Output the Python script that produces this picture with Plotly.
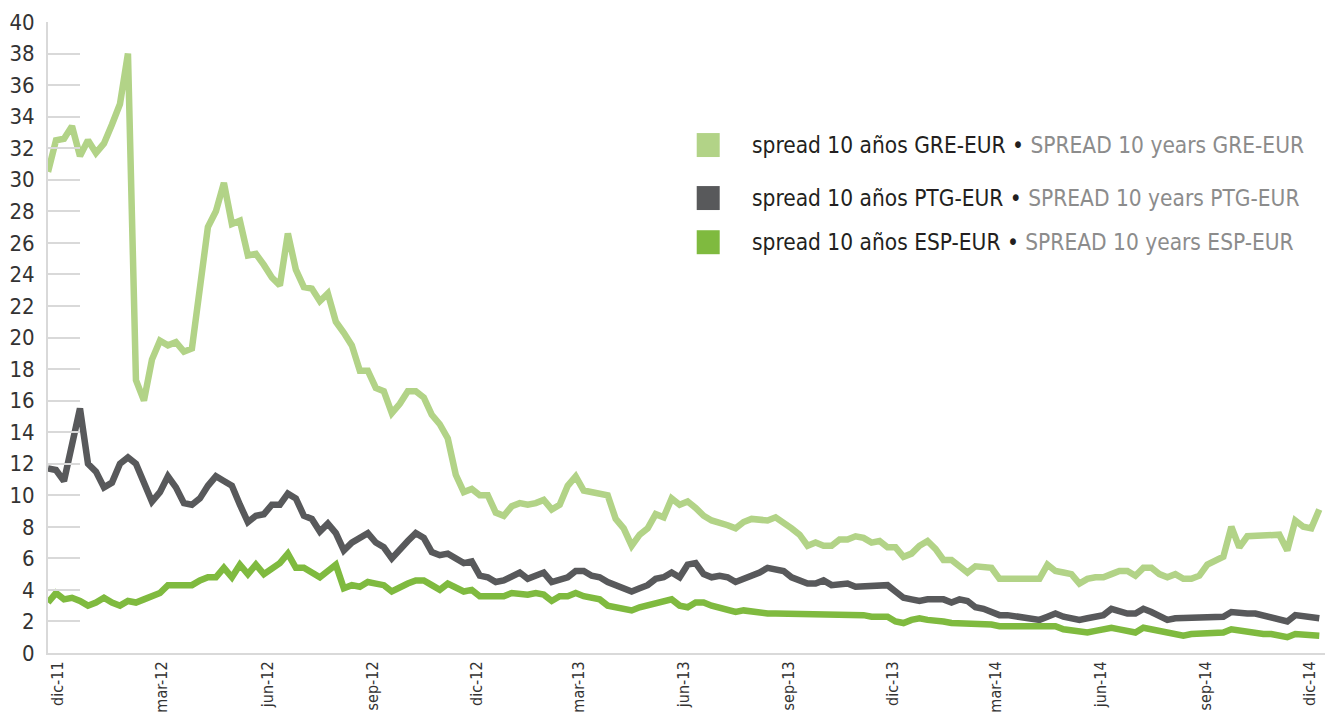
import plotly.graph_objects as go
import pandas as pd

# weekly observations starting on this date
start_date = "2011-11-22"

gre = [30.5, 32.5, 32.6, 33.4, 31.5, 32.5, 31.7, 32.3, 33.5, 34.8,
       38.0, 17.3, 16.0, 18.6, 19.8, 19.5, 19.7, 19.1, 19.3, 23.0,
       27.0, 28.0, 29.8, 27.2, 27.4, 25.2, 25.3, 24.6, 23.8, 23.3,
       26.6, 24.3, 23.2, 23.1, 22.3, 22.8, 21.0, 20.3, 19.5, 17.9,
       17.9, 16.8, 16.6, 15.2, 15.8, 16.6, 16.6, 16.2, 15.1, 14.5,
       13.6, 11.3, 10.2, 10.4, 10.0, 10.0, 8.9, 8.7, 9.3, 9.5,
       9.4, 9.5, 9.7, 9.1, 9.4, 10.6, 11.2, 10.3, 10.2, 10.2,
       10.0, 8.5, 7.9, 6.8, 7.5, 7.9, 8.8, 8.6, 9.8, 9.4,
       9.6, 9.2, 8.7, 8.4, 8.3, 8.1, 7.9, 8.3, 8.5, 8.5,
       8.4, 8.6, 8.3, 7.9, 7.5, 6.8, 7.0, 6.8, 6.8, 7.2,
       7.2, 7.4, 7.3, 7.0, 7.1, 6.7, 6.7, 6.1, 6.3, 6.8,
       7.1, 6.6, 5.9, 5.9, 5.5, 5.1, 5.5, 5.4, 5.4, 4.7,
       4.7, 4.8, 4.8, 4.8, 4.7, 5.6, 5.2, 5.1, 5.0, 4.4,
       4.7, 4.8, 4.8, 5.0, 5.2, 5.2, 4.9, 5.4, 5.4, 5.0,
       4.8, 5.0, 4.7, 4.7, 4.9, 5.6, 5.8, 6.1, 8.0, 6.7,
       7.4, 7.4, 7.4, 7.4, 7.5, 6.5, 8.4, 8.0, 7.9, 9.1]

ptg = [11.7, 11.6, 10.9, 13.0, 15.5, 12.0, 11.5, 10.5, 10.8, 12.0,
       12.4, 12.0, 10.8, 9.6, 10.2, 11.2, 10.5, 9.5, 9.4, 9.8,
       10.6, 11.2, 10.9, 10.6, 9.4, 8.3, 8.7, 8.8, 9.4, 9.4,
       10.1, 9.8, 8.7, 8.5, 7.7, 8.2, 7.6, 6.5, 7.0, 7.3,
       7.6, 7.0, 6.7, 6.0, 6.6, 7.1, 7.6, 7.3, 6.4, 6.2,
       6.3, 6.0, 5.7, 5.8, 4.9, 4.8, 4.5, 4.6, 4.8, 5.1,
       4.7, 4.9, 5.1, 4.5, 4.6, 4.8, 5.2, 5.2, 4.9, 4.8,
       4.5, 4.3, 4.1, 3.9, 4.1, 4.3, 4.7, 4.8, 5.1, 4.8,
       5.6, 5.7, 5.0, 4.8, 4.9, 4.8, 4.5, 4.7, 4.8, 5.1,
       5.4, 5.3, 5.2, 4.8, 4.6, 4.4, 4.4, 4.6, 4.3, 4.3,
       4.4, 4.2, 4.2, 4.2, 4.3, 4.3, 3.9, 3.5, 3.4, 3.3,
       3.4, 3.4, 3.4, 3.2, 3.4, 3.3, 2.9, 2.8, 2.6, 2.4,
       2.4, 2.3, 2.2, 2.2, 2.1, 2.3, 2.5, 2.3, 2.2, 2.1,
       2.2, 2.3, 2.4, 2.8, 2.6, 2.5, 2.5, 2.8, 2.6, 2.3,
       2.1, 2.2, 2.2, 2.2, 2.2, 2.2, 2.2, 2.3, 2.6, 2.5,
       2.5, 2.5, 2.4, 2.3, 2.2, 2.0, 2.4, 2.3, 2.2, 2.2]

esp = [3.2, 3.8, 3.4, 3.5, 3.3, 3.0, 3.2, 3.5, 3.2, 3.0,
       3.3, 3.2, 3.4, 3.6, 3.8, 4.3, 4.3, 4.2, 4.3, 4.6,
       4.8, 4.8, 5.4, 4.8, 5.6, 5.0, 5.6, 5.0, 5.4, 5.7,
       6.3, 5.4, 5.4, 5.1, 4.8, 5.2, 5.6, 4.1, 4.3, 4.2,
       4.5, 4.4, 4.3, 3.9, 4.2, 4.4, 4.6, 4.6, 4.3, 4.0,
       4.4, 4.1, 3.9, 4.0, 3.6, 3.6, 3.6, 3.6, 3.8, 3.7,
       3.7, 3.8, 3.7, 3.3, 3.6, 3.6, 3.8, 3.6, 3.5, 3.4,
       3.0, 2.9, 2.9, 2.7, 2.9, 3.0, 3.1, 3.2, 3.4, 3.0,
       2.9, 3.2, 3.2, 3.0, 2.9, 2.8, 2.6, 2.7, 2.6, 2.6,
       2.5, 2.5, 2.5, 2.5, 2.5, 2.4, 2.4, 2.4, 2.4, 2.4,
       2.4, 2.5, 2.4, 2.3, 2.3, 2.3, 2.0, 1.9, 2.1, 2.2,
       2.1, 2.1, 2.0, 1.9, 1.9, 1.8, 1.9, 1.8, 1.8, 1.7,
       1.7, 1.7, 1.6, 1.6, 1.6, 1.7, 1.7, 1.5, 1.4, 1.3,
       1.3, 1.4, 1.5, 1.6, 1.5, 1.4, 1.3, 1.6, 1.5, 1.4,
       1.3, 1.3, 1.1, 1.2, 1.2, 1.2, 1.2, 1.3, 1.5, 1.4,
       1.3, 1.3, 1.2, 1.2, 1.1, 1.0, 1.2, 1.2, 1.1, 1.1]

tick_dates = ["2011-12-01", "2012-03-01", "2012-06-01", "2012-09-01",
              "2012-12-01", "2013-03-01", "2013-06-01", "2013-09-01",
              "2013-12-01", "2014-03-01", "2014-06-01", "2014-09-01",
              "2014-12-01"]
tick_labels = ["dic-11", "mar-12", "jun-12", "sep-12", "dic-12", "mar-13",
               "jun-13", "sep-13", "dic-13", "mar-14", "jun-14", "sep-14",
               "dic-14"]
y_ticks = list(range(0, 41, 2))

names_es = ["spread 10 años GRE-EUR", "spread 10 años PTG-EUR",
            "spread 10 años ESP-EUR"]
names_en = ["SPREAD 10 years GRE-EUR", "SPREAD 10 years PTG-EUR",
            "SPREAD 10 years ESP-EUR"]
colors = ["#b2d387", "#58595b", "#7fba3f"]

dates = pd.date_range(start_date, periods=len(gre), freq="7D")

FONT = "Liberation Sans Narrow, DejaVu Sans Condensed, Arial Narrow, sans-serif"

fig = go.Figure()
for vals, name, col in zip([gre, ptg, esp], names_es, colors):
    fig.add_trace(go.Scatter(x=dates, y=vals, mode="lines", name=name,
                             line=dict(color=col, width=6.5),
                             showlegend=False))

# custom legend: coloured squares + bilingual labels
legend_y = [0.805, 0.721, 0.651]
for ly, col, es, en in zip(legend_y, colors, names_es, names_en):
    fig.add_shape(type="rect", xref="paper", yref="paper",
                  x0=0.508, x1=0.526, y0=ly - 0.019, y1=ly + 0.019,
                  fillcolor=col, line=dict(width=0))
    fig.add_annotation(xref="paper", yref="paper", x=0.5497, y=ly,
                       xanchor="left", yanchor="middle", showarrow=False,
                       text=f"{es} • <span style='color:#8c8c8c'>{en}</span>",
                       font=dict(family=FONT, size=22.5, color="#231f20"))

# the page adds an 8px body margin, so the figure is sized to fit the window
fig.update_layout(
    width=1325, height=707,
    margin=dict(l=40, r=8, t=14, b=62),
    plot_bgcolor="white", paper_bgcolor="white",
    font=dict(family=FONT, color="#333333"),
    xaxis=dict(
        type="date",
        range=["2011-11-22", "2014-12-14"],
        tickvals=tick_dates, ticktext=tick_labels,
        tickangle=-90, ticks="",
        tickfont=dict(family=FONT, size=16, color="#333333"),
        showgrid=False, zeroline=False, automargin=False,
        showline=True, linecolor="#d9d9d9", linewidth=2,
    ),
    yaxis=dict(
        range=[0, 40], tickvals=y_ticks,
        ticks="inside", ticklen=32, tickwidth=2, tickcolor="#d9d9d9",
        tickfont=dict(family=FONT, size=22, color="#333333"),
        ticklabelstandoff=7, automargin=False,
        showgrid=False, zeroline=False,
        showline=True, linecolor="#d9d9d9", linewidth=2,
    ),
)

fig.write_html("out.html")
